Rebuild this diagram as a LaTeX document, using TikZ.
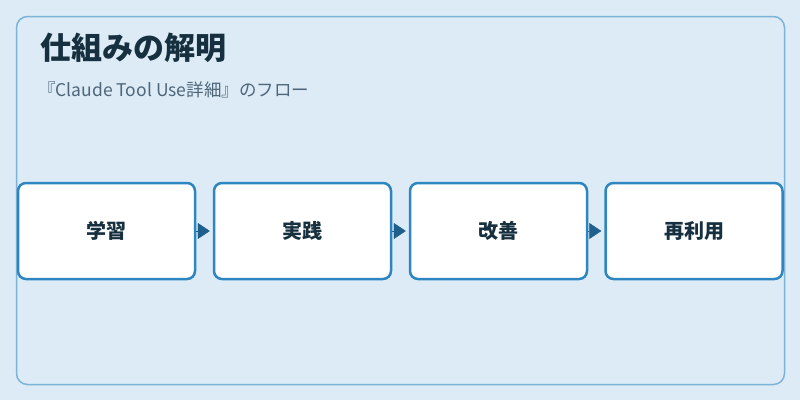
\documentclass[tikz,border=0pt]{standalone}
\usepackage{fontspec}
\setmainfont{Noto Sans CJK JP}
\usetikzlibrary{arrows.meta}
\usetikzlibrary{positioning}
\definecolor{pagebg}{HTML}{DCEBF6}
\definecolor{panelline}{HTML}{7DB3D6}
\definecolor{boxline}{HTML}{2E86C1}
\definecolor{titlecol}{HTML}{17303F}
\definecolor{subcol}{HTML}{4F6679}
\definecolor{arrowcol}{HTML}{1F5F8B}
\tikzset{stage/.style = {draw=boxline, fill=white, line width=2.5pt, rounded corners=8pt,
                         minimum width=177pt, minimum height=96pt, inner sep=0,
                         font=\bfseries\fontsize{20pt}{22pt}\selectfont, text=titlecol}}
\tikzset{flow/.style = {draw=arrowcol, line width=0.4pt, -{Triangle[length=12pt,width=16pt]},
                        shorten >=3pt}}

\begin{document}
\begin{tikzpicture}[x=1pt, y=-1pt]
    \useasboundingbox [fill=pagebg] (0, 0) rectangle (800, 400);
    \draw [panelline, fill=pagebg, line width=1.5pt, rounded corners=11pt] (16.5, 16.5) rectangle (784.5, 384.5);
    \node [anchor=base west, inner sep=0, font=\bfseries\fontsize{31pt}{35pt}\selectfont, text=titlecol] (title) at (40, 59) {仕組みの解明};
    \node [anchor=base west, inner sep=0, font=\fontsize{17.5pt}{19pt}\selectfont, text=subcol] (subtitle) at (38, 96) {『Claude Tool Use詳細』のフロー};
    \node [stage] (learn) at (106.5, 231) {学習};
    \node [stage] (practice) at (302.5, 231) {実践};
    \node [stage] (improve) at (498.5, 231) {改善};
    \node [stage] (reuse) at (694, 231) {再利用};
    \draw [flow] (learn) -- (practice);
    \draw [flow] (practice) -- (improve);
    \draw [flow] (improve) -- (reuse);
  \end{tikzpicture}
\end{document}
